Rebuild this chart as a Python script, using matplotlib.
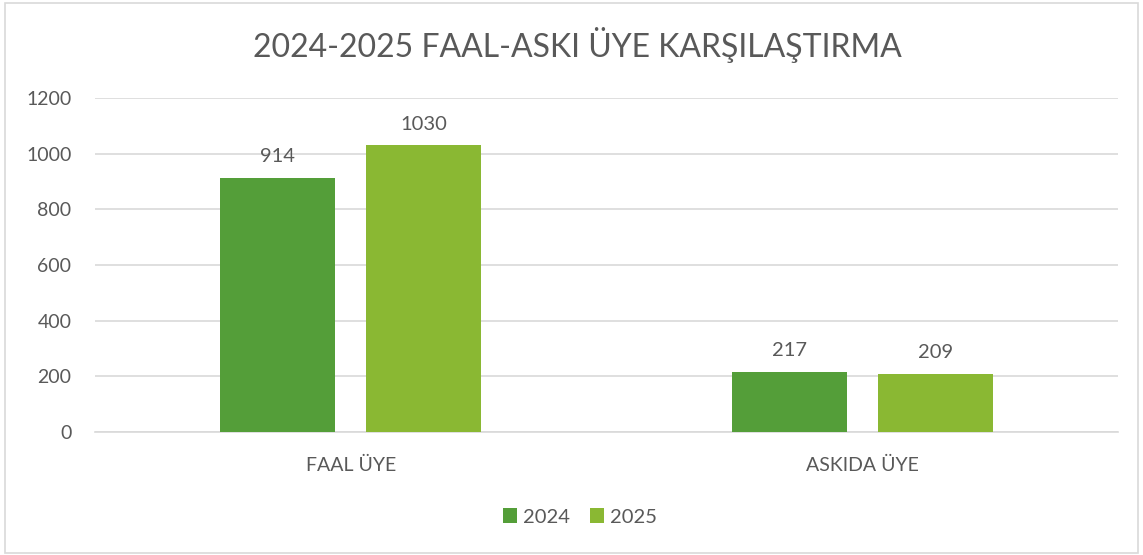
import matplotlib.pyplot as plt
import numpy as np
from matplotlib.patches import Rectangle

categories = ['FAAL ÜYE', 'ASKIDA ÜYE']
series_names = ['2024', '2025']
values_2024 = [914, 217]
values_2025 = [1030, 209]
yticks = [0, 200, 400, 600, 800, 1000, 1200]

colors = ['#549E39', '#8AB833']
txt = '#595959'
plt.rcParams['font.family'] = ['Lato', 'DejaVu Sans']

fig = plt.figure(figsize=(11.43, 5.55), dpi=100)
ax = fig.add_axes([95/1143, 1-432/555, (1118-95)/1143, (432-98)/555])

x = np.arange(len(categories))
w = 0.225
off = (w + 0.06) / 2
for vals, name, c, d in [(values_2024, series_names[0], colors[0], -off),
                         (values_2025, series_names[1], colors[1], off)]:
    bars = ax.bar(x + d, vals, width=w, color=c, label=name, zorder=3)
    for b, v in zip(bars, vals):
        ax.annotate(str(v), (b.get_x() + b.get_width()/2, v), xytext=(0, 9),
                    textcoords='offset points', ha='center', va='bottom',
                    fontsize=14.5, color=txt)

ax.set_xlim(-0.5, 1.5)
ax.set_ylim(0, 1200)
ax.set_yticks(yticks)
ax.set_xticks(x)
ax.set_xticklabels(categories)
ax.grid(axis='y', color='#D9D9D9', linewidth=1.2, zorder=0)
for s in ['top', 'right', 'left']:
    ax.spines[s].set_visible(False)
ax.spines['bottom'].set_color('#D9D9D9')
ax.spines['bottom'].set_linewidth(1.2)
ax.tick_params(axis='both', length=0, labelsize=14, colors=txt)
ax.tick_params(axis='y', pad=17)
ax.tick_params(axis='x', pad=18)

fig.text(577/1143, 1-45/555, '2024-2025 FAAL-ASKI ÜYE KARŞILAŞTIRMA', ha='center', va='center',
         fontsize=23, color=txt)

fig.legend(loc='center', bbox_to_anchor=(580/1143, 1-517/555), ncol=2, frameon=False,
           fontsize=14.5, labelcolor=txt, handlelength=0.7, handleheight=0.7,
           handletextpad=0.3, columnspacing=1.0)

fig.patches.append(Rectangle((5/1143, 2/555), 1133/1143, 550/555, transform=fig.transFigure,
                             fill=False, edgecolor='#D9D9D9', linewidth=1.2))

fig.savefig('out.png', dpi=100, facecolor='white')
